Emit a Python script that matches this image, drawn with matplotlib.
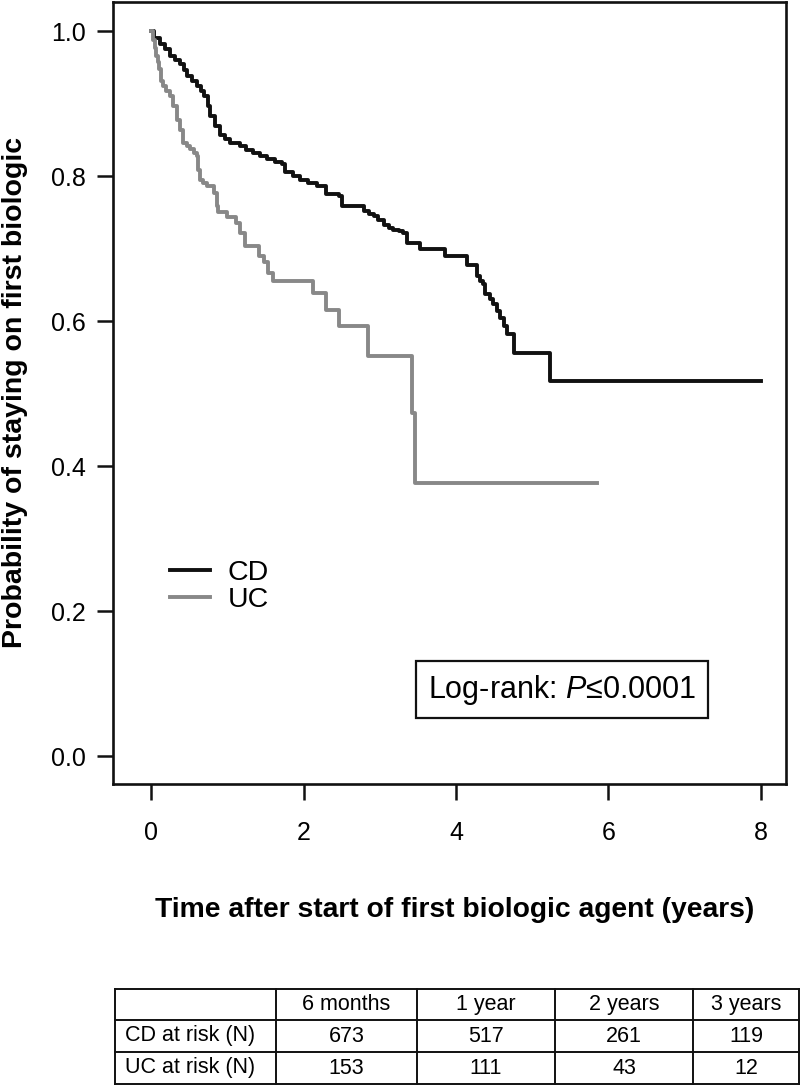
import numpy as np
import matplotlib
matplotlib.use("Agg")
from matplotlib import pyplot as plt

# Kaplan-Meier steps (time in years, survival after the step)
cd_time = [0.00, 0.04, 0.12, 0.18, 0.25, 0.32, 0.38, 0.43, 0.47, 0.53, 0.60, 0.65, 0.69,
           0.75, 0.77, 0.84, 0.91, 0.97, 1.04, 1.17, 1.25, 1.34, 1.43, 1.52, 1.62, 1.72,
           1.76, 1.86, 1.96, 2.06, 2.17, 2.30, 2.46, 2.50, 2.79, 2.86, 2.92, 2.98, 3.05,
           3.12, 3.18, 3.25, 3.31, 3.36, 3.53, 3.86, 4.14, 4.27, 4.32, 4.36, 4.38, 4.44,
           4.49, 4.54, 4.58, 4.63, 4.67, 4.76, 5.24, 8.00]
cd_surv = [1.000, 0.990, 0.982, 0.975, 0.966, 0.960, 0.954, 0.946, 0.938, 0.931, 0.924, 0.917, 0.910,
           0.897, 0.883, 0.869, 0.857, 0.851, 0.846, 0.841, 0.836, 0.832, 0.828, 0.823, 0.820, 0.816,
           0.805, 0.800, 0.795, 0.791, 0.786, 0.775, 0.772, 0.759, 0.752, 0.748, 0.745, 0.739, 0.733,
           0.729, 0.726, 0.724, 0.722, 0.708, 0.699, 0.690, 0.678, 0.662, 0.656, 0.651, 0.637, 0.630,
           0.623, 0.614, 0.605, 0.593, 0.582, 0.556, 0.517, 0.517]

uc_time = [0.00, 0.02, 0.05, 0.07, 0.09, 0.10, 0.13, 0.16, 0.20, 0.25, 0.29, 0.34, 0.38,
           0.42, 0.47, 0.51, 0.56, 0.60, 0.62, 0.64, 0.68, 0.73, 0.82, 0.86, 0.88, 0.99,
           1.12, 1.17, 1.23, 1.41, 1.48, 1.54, 1.60, 2.13, 2.30, 2.46, 2.85, 3.42, 3.46, 5.85]
uc_surv = [1.000, 0.988, 0.976, 0.966, 0.957, 0.947, 0.931, 0.924, 0.917, 0.910, 0.897, 0.878, 0.864,
           0.846, 0.841, 0.837, 0.832, 0.828, 0.809, 0.795, 0.790, 0.786, 0.777, 0.759, 0.750, 0.743,
           0.736, 0.722, 0.703, 0.690, 0.681, 0.667, 0.655, 0.639, 0.616, 0.593, 0.552, 0.474, 0.377, 0.377]

# numbers at risk table
col_labels = ["", "6 months", "1 year", "2 years", "3 years"]
row_labels = ["CD at risk (N)", "UC at risk (N)"]
cd_at_risk = [673, 517, 261, 119]
uc_at_risk = [153, 111, 43, 12]

plt.rcParams['font.family'] = ['Liberation Sans', 'DejaVu Sans']
plt.rcParams['mathtext.fontset'] = 'custom'
plt.rcParams['mathtext.rm'] = 'Liberation Sans'
plt.rcParams['mathtext.it'] = 'Liberation Sans:italic'

W, H = 800, 1085
fig = plt.figure(figsize=(W / 100, H / 100), dpi=100)

# main plot, placed in pixel units of the reference
left, right, top, bottom = 113, 786, 2, 784
ax = fig.add_axes([left / W, 1 - bottom / H, (right - left) / W, (bottom - top) / H])

ax.step(cd_time, cd_surv, where='post', color='#111111', lw=2.8, label='CD')
ax.step(uc_time, uc_surv, where='post', color='#888888', lw=2.8, label='UC')

ax.set_xlim(-0.5, 8.33)
ax.set_ylim(-0.038, 1.04)
ax.set_xticks([0, 2, 4, 6, 8])
ax.set_yticks([0.0, 0.2, 0.4, 0.6, 0.8, 1.0])
ax.set_yticklabels(["0.0", "0.2", "0.4", "0.6", "0.8", "1.0"])
ax.tick_params(axis='both', direction='out', length=11.5, width=1.8, labelsize=18, color='#111111')
ax.tick_params(axis='x', pad=15)
ax.tick_params(axis='y', pad=8)
for sp in ax.spines.values():
    sp.set_linewidth(1.9)
    sp.set_color('#111111')

ax.legend(loc='upper left', bbox_to_anchor=(0.064, 0.305), frameon=False, fontsize=20.5,
          handlelength=1.4, handletextpad=0.6, labelspacing=0.05, borderpad=0)

ax.text(5.39, 0.092, "Log-rank: $\\mathit{P}$≤0.0001", fontsize=22, ha='center', va='center',
        bbox=dict(boxstyle='square,pad=0.38', fc='white', ec='#111111', lw=1.6))

fig.text(15 / W, 1 - 392 / H, "Probability of staying on first biologic", rotation=90,
         ha='center', va='center', fontsize=20.5, fontweight='bold')
fig.text(455 / W, 1 - 910 / H, "Time after start of first biologic agent (years)",
         ha='center', va='center', fontsize=20.3, fontweight='bold')

# table drawn in pixel coordinates of its own axes
tx0, tx1, ty0, ty1 = 115, 800, 989, 1084
tab = fig.add_axes([tx0 / W, 1 - ty1 / H, (tx1 - tx0) / W, (ty1 - ty0) / H])
tab.set_xlim(tx0, tx1)
tab.set_ylim(ty1, ty0)
tab.axis('off')
col_edges = [115, 276, 417, 555, 693, 799]
row_edges = [989, 1020, 1052, 1084]
for x in col_edges:
    tab.plot([x, x], [row_edges[0], row_edges[-1]], color='#111111', lw=1.4, clip_on=False)
for y in row_edges:
    tab.plot([col_edges[0], col_edges[-1]], [y, y], color='#111111', lw=1.4, clip_on=False)

cells = [col_labels,
         [row_labels[0]] + [str(v) for v in cd_at_risk],
         [row_labels[1]] + [str(v) for v in uc_at_risk]]
for r, row in enumerate(cells):
    yc = (row_edges[r] + row_edges[r + 1]) / 2
    for c, txt in enumerate(row):
        if c == 0:
            tab.text(col_edges[0] + 10, yc, txt, ha='left', va='center', fontsize=15.5)
        else:
            xc = (col_edges[c] + col_edges[c + 1]) / 2
            tab.text(xc, yc, txt, ha='center', va='center', fontsize=15.5)

fig.savefig("out.png", dpi=100)
